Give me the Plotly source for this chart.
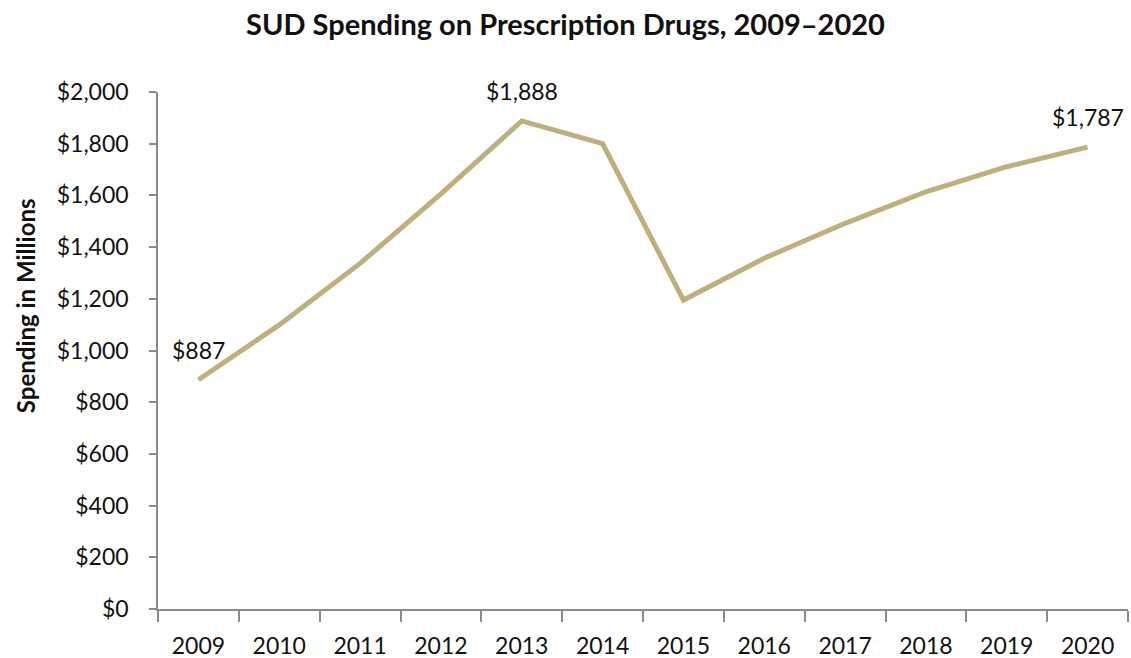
import plotly.graph_objects as go

# SUD prescription drug spending, millions of dollars
years = ["2009", "2010", "2011", "2012", "2013", "2014",
         "2015", "2016", "2017", "2018", "2019", "2020"]
spending = [887, 1099, 1337, 1606, 1888, 1800, 1195, 1357, 1492, 1614, 1711, 1787]
labelled_years = ["2009", "2013", "2020"]

y_ticks = [0, 200, 400, 600, 800, 1000, 1200, 1400, 1600, 1800, 2000]
y_tick_text = [f"${v:,}" for v in y_ticks]

LINE_COLOR = "#BFAF7A"
AXIS_COLOR = "#8A8A8A"
FONT = "Lato"
TICK_SIZE = 23

fig = go.Figure()
fig.add_trace(go.Scatter(
    x=years, y=spending, mode="lines",
    line=dict(color=LINE_COLOR, width=5),
    hoverinfo="skip", showlegend=False,
))

# value labels above selected points (category axis -> use the index)
for yr in labelled_years:
    i = years.index(yr)
    val = spending[i]
    fig.add_annotation(
        x=i, y=val, xref="x", yref="y", text=f"${val:,}", showarrow=False,
        yshift=30, font=dict(family=FONT, size=TICK_SIZE, color="#111111"),
    )

# vertical axis title
fig.add_annotation(
    text="<b>Spending in Millions</b>", textangle=-90, showarrow=False,
    xref="paper", yref="paper", x=-0.137, y=0.586,
    xanchor="center", yanchor="middle",
    font=dict(family=FONT, size=24, color="#111111"),
)

fig.update_layout(
    width=1131, height=658,
    margin=dict(l=158, r=3, t=92, b=49, autoexpand=False),
    paper_bgcolor="white", plot_bgcolor="white",
    font=dict(family=FONT, color="#111111"),
    title=dict(
        text="<b>SUD Spending on Prescription Drugs, 2009–2020</b>",
        x=0.5, xanchor="center", y=0.962, yanchor="middle",
        font=dict(family=FONT, size=29, color="#111111"),
    ),
)

fig.update_xaxes(
    type="category", range=[-0.5, 11.5], automargin=False,
    showline=True, linecolor=AXIS_COLOR, linewidth=1.5,
    ticks="outside", tickson="boundaries", ticklen=11,
    tickcolor=AXIS_COLOR, tickwidth=1.5,
    ticklabelstandoff=16,
    tickfont=dict(family=FONT, size=TICK_SIZE, color="#111111"),
    showgrid=False, zeroline=False,
)

fig.update_yaxes(
    range=[0, 2000], tickvals=y_ticks, ticktext=y_tick_text, automargin=False,
    showline=True, linecolor=AXIS_COLOR, linewidth=1.5,
    ticks="outside", ticklen=7, tickcolor=AXIS_COLOR, tickwidth=1.5,
    ticklabelstandoff=16,
    tickfont=dict(family=FONT, size=TICK_SIZE, color="#111111"),
    showgrid=False, zeroline=False,
)

fig.write_html("out.html")
